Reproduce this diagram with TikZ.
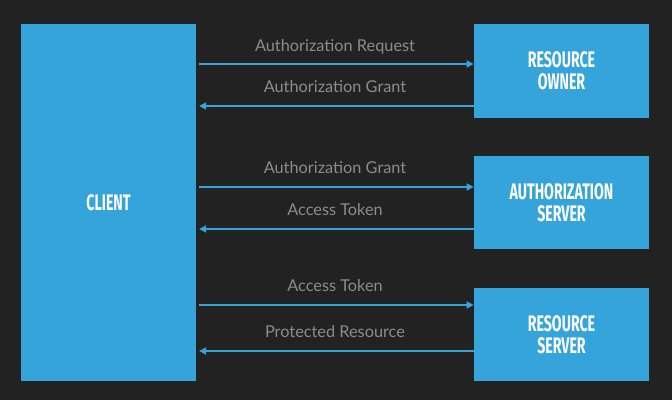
\documentclass[tikz,border=0pt]{standalone}
\usepackage{fontspec}
\usetikzlibrary{arrows.meta}
\newfontfamily\msgfont{Lato}
\newfontfamily\boxfont[FakeStretch=0.63]{Fira Sans}
\definecolor{bgdark}{HTML}{222222}
\definecolor{boxblue}{HTML}{34A4DB}
\definecolor{msggray}{HTML}{8C8C8C}

\begin{document}
\begin{tikzpicture}[
    x=0.025cm, y=-0.025cm,
    box/.style={rectangle, fill=boxblue, inner sep=0pt, minimum width=4.375cm, minimum height=2.34cm, align=center, text=white, font=\boxfont\bfseries\fontsize{16}{15.5}\selectfont},
    arrow/.style={-{Triangle[length=5pt, width=5pt]}, line width=1.2pt, draw=boxblue},
    msg/.style={text=msggray, inner sep=0pt, text depth=0pt, font=\msgfont\fontsize{11.6}{14}\selectfont}
]
    \fill[bgdark] (0,0) rectangle (672,400);

    \node[box, minimum height=8.925cm] (client) at (108.5,202.5) {CLIENT};
    \node[box] (owner) at (561.5,71) {RESOURCE\\OWNER};
    \node[box] (authserver) at (561.5,202.5) {AUTHORIZATION\\SERVER};
    \node[box] (resserver) at (561.5,334.5) {RESOURCE\\SERVER};

    % client <-> resource owner
    \draw[arrow, shorten <=2pt] (client.east |- 0,64) -- (owner.west |- 0,64)
        node[msg, midway, above=8.5pt] {Authorization Request};
    \draw[arrow, shorten >=2pt] (owner.west |- 0,106) -- (client.east |- 0,106)
        node[msg, midway, above=9pt] {Authorization Grant};

    % client <-> authorization server
    \draw[arrow, shorten <=2pt] (client.east |- 0,187) -- (authserver.west |- 0,187)
        node[msg, midway, above=9pt] {Authorization Grant};
    \draw[arrow, shorten >=2pt] (authserver.west |- 0,229) -- (client.east |- 0,229)
        node[msg, midway, above=9pt] {Access Token};

    % client <-> resource server
    \draw[arrow, shorten <=2pt] (client.east |- 0,305) -- (resserver.west |- 0,305)
        node[msg, midway, above=9pt] {Access Token};
    \draw[arrow, shorten >=2pt] (resserver.west |- 0,351) -- (client.east |- 0,351)
        node[msg, midway, above=9pt] {Protected Resource};
\end{tikzpicture}
\end{document}
